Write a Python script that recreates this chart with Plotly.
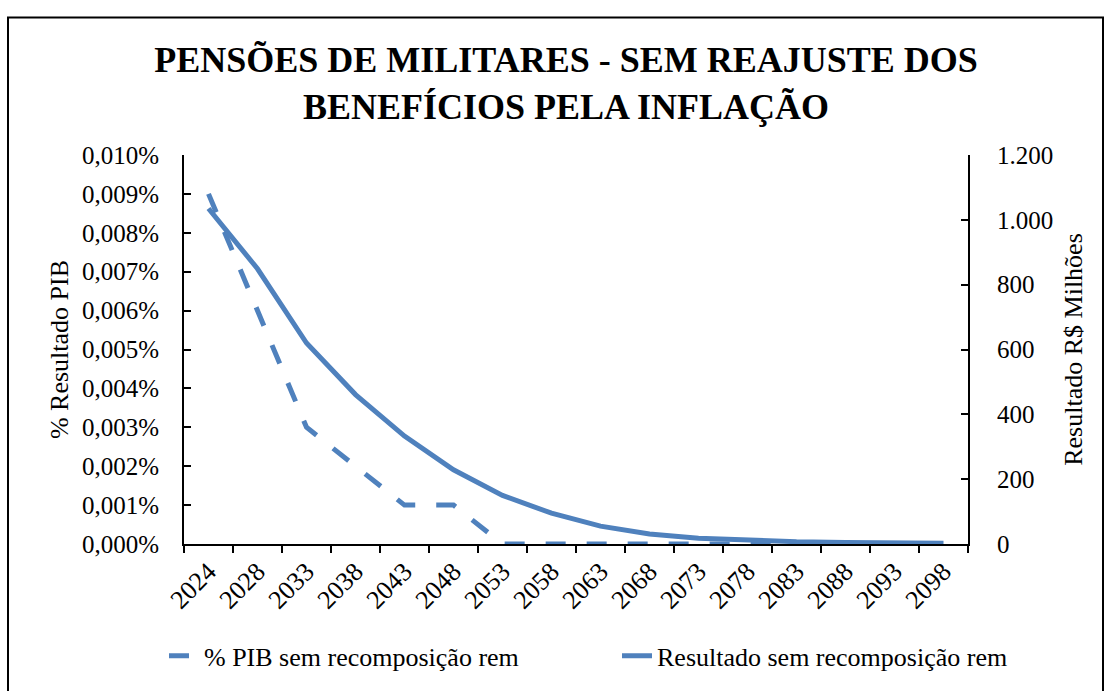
import plotly.graph_objects as go

# Categories (years) and series
anos = ["2024", "2028", "2033", "2038", "2043", "2048", "2053", "2058",
        "2063", "2068", "2073", "2078", "2083", "2088", "2093", "2098"]

# % do PIB (valores em pontos percentuais)
pib_pct = [0.009, 0.006, 0.003, 0.002, 0.001, 0.001, 0.0, 0.0,
           0.0, 0.0, 0.0, 0.0, 0.0, 0.0, 0.0, 0.0]

# Resultado em R$ milhões
resultado = [1035, 849, 620, 461, 333, 229, 150, 95,
             55, 31, 18, 11, 7, 5, 3, 2]

AZUL = "#4F81BD"
FONTE = "Liberation Serif, Times New Roman, serif"

W, H = 1108, 691
ML, MR, MT, MB = 184, 140, 155, 143
PW = W - ML - MR
PH = H - MT - MB


def px_x(px):
    return (px - ML) / PW


def px_y(py):
    return (H - MB - py) / PH


fig = go.Figure()

fig.add_trace(go.Scatter(
    x=anos, y=pib_pct, name="% PIB sem recomposição rem",
    mode="lines", line=dict(color=AZUL, width=5, dash="20px,21px"),
    yaxis="y",
))
fig.add_trace(go.Scatter(
    x=anos, y=resultado, name="Resultado sem recomposição rem",
    mode="lines", line=dict(color=AZUL, width=5),
    yaxis="y2",
))

fig.update_layout(
    width=W, height=H,
    margin=dict(l=ML, r=MR, t=MT, b=MB),
    paper_bgcolor="white", plot_bgcolor="white",
    separators=",.",
    font=dict(family=FONTE, size=24, color="black"),
    title=dict(
        text="<b>PENSÕES DE MILITARES - SEM REAJUSTE DOS<br>BENEFÍCIOS PELA INFLAÇÃO</b>",
        x=566 / W, xanchor="center", xref="container",
        y=1 - 72 / H, yanchor="middle", yref="container",
        font=dict(family=FONTE, size=36, color="black"),
    ),
    xaxis=dict(
        type="category", range=[-0.5, len(anos) - 0.5],
        showline=True, linecolor="black", linewidth=2,
        ticks="outside", ticklen=7, tickwidth=1.5, tickcolor="black",
        tickson="boundaries", tickangle=-45,
        showgrid=False, zeroline=False,
        tickfont=dict(family=FONTE, size=26),
    ),
    yaxis=dict(
        range=[0, 0.010], dtick=0.001, tickformat=".3f", ticksuffix="%",
        showline=True, linecolor="black", linewidth=2,
        ticks="inside", ticklen=7, tickwidth=1.5, tickcolor="black",
        ticklabelstandoff=18,
        showgrid=False, zeroline=False,
        title=dict(text="% Resultado PIB", standoff=6,
                   font=dict(family=FONTE, size=26)),
        tickfont=dict(family=FONTE, size=25),
    ),
    yaxis2=dict(
        overlaying="y", side="right",
        range=[0, 1200], dtick=200, tickformat=",d",
        showline=True, linecolor="black", linewidth=2,
        ticks="inside", ticklen=7, tickwidth=1.5, tickcolor="black",
        ticklabelstandoff=22,
        showgrid=False, zeroline=False,
        title=dict(text="Resultado R$ Milhões", standoff=12,
                   font=dict(family=FONTE, size=26)),
        tickfont=dict(family=FONTE, size=25),
    ),
    legend=dict(
        orientation="h",
        x=px_x(164), xanchor="left",
        y=px_y(661), yanchor="middle",
        entrywidth=408, entrywidthmode="pixels",
        font=dict(family=FONTE, size=26),
        bgcolor="rgba(0,0,0,0)",
    ),
    showlegend=True,
)

# Chart-area border
fig.add_shape(
    type="rect", xref="paper", yref="paper",
    x0=px_x(8), x1=px_x(1103), y0=px_y(720), y1=px_y(16),
    line=dict(color="black", width=2), fillcolor="rgba(0,0,0,0)",
    layer="below",
)

fig.write_html("out.html")
